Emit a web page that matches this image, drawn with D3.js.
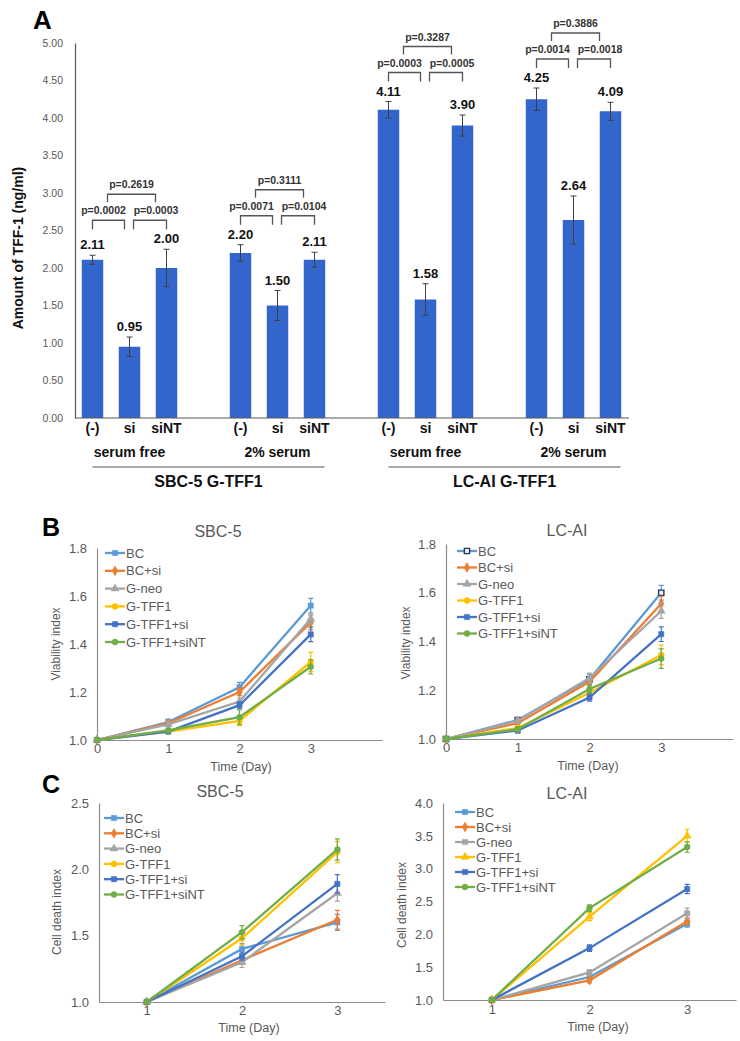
<!DOCTYPE html>
<html>
<head>
<meta charset="utf-8">
<script src="https://cdn.jsdelivr.net/npm/d3@7"></script>
<style>
  html, body { margin: 0; padding: 0; background: #fff; }
  svg { display: block; font-family: "Liberation Sans", Arial, sans-serif; }
</style>
</head>
<body>
<svg id="fig" width="740" height="1041"></svg>
<script>
// ---------------- DATA ----------------
// Panel A
const barCategories = ["(-)", "si", "siNT"];
const barConditions = ["serum free", "2% serum", "serum free", "2% serum"];
const barCellLines = ["SBC-5 G-TFF1", "LC-AI G-TFF1"];
const barValues = [2.11, 0.95, 2.00, 2.20, 1.50, 2.11, 4.11, 1.58, 3.90, 4.25, 2.64, 4.09];
const barErrors = [0.06, 0.13, 0.25, 0.11, 0.20, 0.10, 0.11, 0.21, 0.14, 0.15, 0.32, 0.12];
const pLeft = ["p=0.0002", "p=0.0071", "p=0.0003", "p=0.0014"];
const pRight = ["p=0.0003", "p=0.0104", "p=0.0005", "p=0.0018"];
const pTop = ["p=0.2619", "p=0.3111", "p=0.3287", "p=0.3886"];
const barYTicks = [0, 0.5, 1, 1.5, 2, 2.5, 3, 3.5, 4, 4.5, 5];

// Panels B & C
const seriesNames = ["BC", "BC+si", "G-neo", "G-TFF1", "G-TFF1+si", "G-TFF1+siNT"];
const daysB = [0, 1, 2, 3];
const daysC = [1, 2, 3];

const viabSBC5 = [
  [1.0, 1.075, 1.22, 1.56],
  [1.0, 1.07, 1.20, 1.49],
  [1.0, 1.065, 1.16, 1.505],
  [1.0, 1.035, 1.08, 1.325],
  [1.0, 1.035, 1.145, 1.44],
  [1.0, 1.04, 1.095, 1.305]
];
const viabSBC5Err = [
  [0, 0.012, 0.02, 0.03],
  [0, 0.01, 0.015, 0.03],
  [0, 0.01, 0.015, 0.02],
  [0, 0.008, 0.02, 0.04],
  [0, 0.008, 0.015, 0.03],
  [0, 0.008, 0.03, 0.03]
];
const viabLCAI = [
  [1.0, 1.078, 1.245, 1.60],
  [1.0, 1.065, 1.235, 1.555],
  [1.0, 1.075, 1.25, 1.525],
  [1.0, 1.045, 1.19, 1.345],
  [1.0, 1.035, 1.17, 1.43],
  [1.0, 1.04, 1.205, 1.33]
];
const viabLCAIErr = [
  [0, 0.01, 0.02, 0.03],
  [0, 0.01, 0.015, 0.03],
  [0, 0.01, 0.02, 0.03],
  [0, 0.01, 0.015, 0.04],
  [0, 0.01, 0.015, 0.03],
  [0, 0.01, 0.015, 0.04]
];
const deathSBC5 = [
  [1.0, 1.40, 1.60],
  [1.0, 1.315, 1.62],
  [1.0, 1.30, 1.82],
  [1.0, 1.48, 2.13],
  [1.0, 1.345, 1.89],
  [1.0, 1.526, 2.15]
];
const deathSBC5Err = [
  [0, 0.04, 0.06],
  [0, 0.03, 0.07],
  [0, 0.04, 0.06],
  [0, 0.05, 0.08],
  [0, 0.03, 0.07],
  [0, 0.05, 0.08]
];
const deathLCAI = [
  [1.0, 1.35, 2.16],
  [1.0, 1.30, 2.20],
  [1.0, 1.42, 2.32],
  [1.0, 2.27, 3.50],
  [1.0, 1.79, 2.69],
  [1.0, 2.40, 3.33]
];
const deathLCAIErr = [
  [0, 0.04, 0.05],
  [0, 0.04, 0.05],
  [0, 0.04, 0.08],
  [0, 0.06, 0.10],
  [0, 0.05, 0.07],
  [0, 0.05, 0.08]
];

// ---------------- STYLE ----------------
const seriesColors = ["#5b9bd5", "#ed7d31", "#a5a5a5", "#ffc000", "#4472c4", "#70ad47"];
const FONT = '"Liberation Sans", Arial, sans-serif';

const svg = d3.select("#fig");

// ---------------- PANEL A ----------------
(function panelA() {
  const g = svg.append("g");
  const nGroups = barConditions.length;
  const nSlots = nGroups * 4 - 1;
  const x = d3.scaleBand().domain(d3.range(nSlots)).range([74, 629])
    .paddingInner(0.42).paddingOuter(0.21);
  const y = d3.scaleLinear().domain([0, 5]).range([418, 43]);
  const slotOf = i => Math.floor(i / 3) * 4 + (i % 3);
  const cx = i => x(slotOf(i)) + x.bandwidth() / 2;

  // y axis
  const yAxis = d3.axisLeft(y).tickValues(barYTicks).tickFormat(d3.format(".2f")).tickSize(0).tickPadding(12);
  const ya = g.append("g").attr("transform", "translate(75,0)").call(yAxis);
  ya.select(".domain").attr("stroke", "#595959").attr("stroke-width", 1.2);
  ya.selectAll("text").attr("fill", "#595959").attr("font-size", 10.5).attr("font-family", FONT);

  // bars
  g.selectAll("rect.bar").data(barValues).join("rect")
    .attr("x", (d, i) => x(slotOf(i)))
    .attr("y", d => y(d))
    .attr("width", x.bandwidth())
    .attr("height", d => y(0) - y(d))
    .attr("fill", "#3366cc");

  // x axis line
  g.append("line").attr("x1", 75).attr("x2", 629).attr("y1", y(0)).attr("y2", y(0))
    .attr("stroke", "#595959").attr("stroke-width", 1.2);

  // error bars
  const eb = g.append("g").attr("stroke", "#404040").attr("stroke-width", 1);
  barValues.forEach((v, i) => {
    const e = barErrors[i], c = cx(i);
    eb.append("line").attr("x1", c).attr("x2", c).attr("y1", y(v + e)).attr("y2", y(v - e));
    eb.append("line").attr("x1", c - 3).attr("x2", c + 3).attr("y1", y(v + e)).attr("y2", y(v + e));
    eb.append("line").attr("x1", c - 3).attr("x2", c + 3).attr("y1", y(v - e)).attr("y2", y(v - e));
  });

  // value labels
  g.selectAll("text.val").data(barValues).join("text")
    .attr("x", (d, i) => cx(i))
    .attr("y", (d, i) => y(d + barErrors[i]) - 6)
    .attr("text-anchor", "middle")
    .attr("font-family", FONT).attr("font-weight", "bold").attr("font-size", 13)
    .attr("fill", "#111")
    .text(d => d.toFixed(2));

  // category labels
  barValues.forEach((v, i) => {
    g.append("text").attr("x", cx(i)).attr("y", 433)
      .attr("text-anchor", "middle").attr("font-family", FONT)
      .attr("font-weight", "bold").attr("font-size", 14).attr("fill", "#111")
      .text(barCategories[i % 3]);
  });

  // brackets and p-values
  const br = g.append("g").attr("fill", "none").attr("stroke", "#555").attr("stroke-width", 1.3);
  for (let k = 0; k < nGroups; k++) {
    const i0 = k * 3;
    const c0 = cx(i0), c1 = cx(i0 + 1), c2 = cx(i0 + 2);
    const topY = d3.min([0, 1, 2], j => y(barValues[i0 + j] + barErrors[i0 + j]));
    const lowY = topY - 29;
    const upY = lowY - 26;
    const bracket = (xa, xb, yy, leg) =>
      br.append("path").attr("d", `M${xa},${yy + leg}V${yy}H${xb}V${yy + leg}`);
    bracket(c0, c1 - 5, lowY, 9);
    bracket(c1 + 4, c2, lowY, 9);
    bracket(c0 + 15, c2 - 11, upY, 8);
    const pt = (tx, ty, s) => g.append("text").attr("x", tx).attr("y", ty)
      .attr("text-anchor", "middle").attr("font-family", FONT).attr("font-weight", "bold")
      .attr("font-size", 10.5).attr("fill", "#333").text(s);
    pt((c0 + c1 - 5) / 2 - 5, lowY - 6, pLeft[k]);
    pt((c1 + 4 + c2) / 2 + 6, lowY - 6, pRight[k]);
    pt((c0 + 15 + c2 - 11) / 2, upY - 6, pTop[k]);

    // condition label
    g.append("text").attr("x", c1).attr("y", 457).attr("text-anchor", "middle")
      .attr("font-family", FONT).attr("font-weight", "bold").attr("font-size", 14)
      .attr("fill", "#111").text(barConditions[k]);
  }
  // cell-line labels
  for (let m = 0; m < barCellLines.length; m++) {
    const xa = cx(m * 6), xb = cx(m * 6 + 5) + 10;
    g.append("line").attr("x1", xa).attr("x2", xb).attr("y1", 467).attr("y2", 467)
      .attr("stroke", "#555").attr("stroke-width", 1.2);
    g.append("text").attr("x", (xa + xb) / 2).attr("y", 487).attr("text-anchor", "middle")
      .attr("font-family", FONT).attr("font-weight", "bold").attr("font-size", 16)
      .attr("fill", "#111").text(barCellLines[m]);
  }

  // y title
  g.append("text").attr("transform", "translate(23,248) rotate(-90)")
    .attr("text-anchor", "middle").attr("font-family", FONT).attr("font-weight", "bold")
    .attr("font-size", 14).attr("fill", "#111").text("Amount of TFF-1 (ng/ml)");

  // panel letter
  svg.append("text").attr("x", 33).attr("y", 29).attr("font-family", FONT)
    .attr("font-weight", "bold").attr("font-size", 26).attr("fill", "#000").text("A");
})();

// ---------------- LINE PANELS ----------------
function linePanel(o) {
  const g = svg.append("g");
  const x = d3.scaleLinear().domain(o.xDomain).range(o.xRange);
  const y = d3.scaleLinear().domain(o.yDomain).range(o.yRange);

  // axes
  const ya = g.append("g").attr("transform", `translate(${o.xRange[0]},0)`)
    .call(d3.axisLeft(y).tickValues(o.yTicks).tickFormat(d3.format(".1f")).tickSize(0).tickPadding(10));
  ya.select(".domain").attr("stroke", "#8c8c8c").attr("stroke-width", 1.2);
  ya.selectAll("text").attr("fill", "#595959").attr("font-size", 13).attr("font-family", FONT);

  const xa = g.append("g").attr("transform", `translate(0,${o.yRange[0]})`)
    .call(d3.axisBottom(x).tickValues(o.days).tickFormat(d3.format("d")).tickSize(0).tickPadding(o.xPad));
  xa.select(".domain").attr("stroke", "#8c8c8c").attr("stroke-width", 1.2);
  xa.selectAll("text").attr("fill", "#595959").attr("font-size", 13).attr("font-family", FONT);

  // titles
  g.append("text").attr("x", o.title[1]).attr("y", o.title[2]).attr("text-anchor", "middle")
    .attr("font-family", FONT).attr("font-size", 16).attr("fill", "#595959").text(o.title[0]);
  g.append("text").attr("x", o.xTitle[0]).attr("y", o.xTitle[1]).attr("text-anchor", "middle")
    .attr("font-family", FONT).attr("font-size", 12.5).attr("fill", "#595959").text("Time (Day)");
  g.append("text").attr("transform", `translate(${o.yTitle[1]},${o.yTitle[2]}) rotate(-90)`)
    .attr("text-anchor", "middle").attr("font-family", FONT).attr("font-size", 12)
    .attr("fill", "#595959").text(o.yTitle[0]);

  const symType = { square: d3.symbolSquare, diamond: d3.symbolDiamond, triangle: d3.symbolTriangle, circle: d3.symbolCircle };
  const symSize = { square: 28, diamond: 28, triangle: 28, circle: 28 };
  const drawMarker = (sel, s, cxp, cyp) => {
    const t = o.markers[s];
    const hollow = o.hollow && o.hollow[s];
    sel.append("path")
      .attr("d", d3.symbol().type(symType[t]).size(symSize[t])())
      .attr("transform", `translate(${cxp},${cyp})`)
      .attr("fill", hollow ? "#f2f2f2" : seriesColors[s])
      .attr("stroke", hollow ? "#1f3864" : seriesColors[s])
      .attr("stroke-width", hollow ? 1.4 : 0.5);
  };

  const line = d3.line().x((d, i) => x(o.days[i])).y(d => y(d));
  o.values.forEach((vals, s) => {
    const sg = g.append("g");
    sg.append("path").attr("d", line(vals)).attr("fill", "none")
      .attr("stroke", seriesColors[s]).attr("stroke-width", 2.3);
    vals.forEach((v, i) => {
      const e = o.errors[s][i];
      if (e > 0) {
        const px = x(o.days[i]);
        sg.append("path")
          .attr("d", `M${px},${y(v + e)}V${y(v - e)}M${px - 2.5},${y(v + e)}H${px + 2.5}M${px - 2.5},${y(v - e)}H${px + 2.5}`)
          .attr("stroke", seriesColors[s]).attr("stroke-width", 1.2).attr("fill", "none");
      }
      drawMarker(sg, s, x(o.days[i]), y(v));
    });
  });

  // legend
  const lg = g.append("g");
  seriesNames.forEach((name, s) => {
    const ly = o.legend[1] + s * o.legend[2];
    const lx = o.legend[0];
    lg.append("line").attr("x1", lx).attr("x2", lx + 20).attr("y1", ly).attr("y2", ly)
      .attr("stroke", seriesColors[s]).attr("stroke-width", 2.3);
    drawMarker(lg, s, lx + 10, ly);
    lg.append("text").attr("x", lx + 21).attr("y", ly).attr("dy", "0.36em")
      .attr("font-family", FONT).attr("font-size", 13).attr("fill", "#595959").text(name);
  });
}

linePanel({
  xDomain: [0, 4], xRange: [97, 382], yDomain: [1, 1.8], yRange: [740, 548],
  yTicks: [1.0, 1.2, 1.4, 1.6, 1.8], days: daysB, xPad: 4,
  values: viabSBC5, errors: viabSBC5Err,
  title: ["SBC-5", 218, 537], xTitle: [241, 771], yTitle: ["Viability index", 60, 644],
  legend: [105, 553, 17.8],
  markers: ["square", "diamond", "triangle", "circle", "square", "circle"]
});
linePanel({
  xDomain: [0, 4], xRange: [446, 733], yDomain: [1, 1.8], yRange: [739, 544],
  yTicks: [1.0, 1.2, 1.4, 1.6, 1.8], days: daysB, xPad: 4,
  values: viabLCAI, errors: viabLCAIErr,
  title: ["LC-AI", 567, 536], xTitle: [588, 770], yTitle: ["Viability index", 410, 643],
  legend: [457, 551, 16.5],
  markers: ["square", "diamond", "triangle", "circle", "square", "circle"],
  hollow: [true, false, false, false, false, false]
});
linePanel({
  xDomain: [0.5, 3.5], xRange: [99, 385], yDomain: [1, 2.5], yRange: [1002, 803],
  yTicks: [1.0, 1.5, 2.0, 2.5], days: daysC, xPad: 4,
  values: deathSBC5, errors: deathSBC5Err,
  title: ["SBC-5", 220, 797], xTitle: [249, 1032], yTitle: ["Cell death index", 61, 912],
  legend: [104, 818, 15.3],
  markers: ["square", "diamond", "triangle", "circle", "square", "circle"]
});
linePanel({
  xDomain: [0.5, 3.5], xRange: [443, 736], yDomain: [1, 4], yRange: [1000, 803],
  yTicks: [1.0, 1.5, 2.0, 2.5, 3.0, 3.5, 4.0], days: daysC, xPad: 5,
  values: deathLCAI, errors: deathLCAIErr,
  title: ["LC-AI", 567, 799], xTitle: [598, 1031], yTitle: ["Cell death index", 406, 905],
  legend: [455, 812, 15],
  markers: ["square", "diamond", "square", "triangle", "square", "circle"]
});

// panel letters
svg.append("text").attr("x", 42).attr("y", 536).attr("font-family", FONT)
  .attr("font-weight", "bold").attr("font-size", 25).attr("fill", "#000").text("B");
svg.append("text").attr("x", 42).attr("y", 793).attr("font-family", FONT)
  .attr("font-weight", "bold").attr("font-size", 25).attr("fill", "#000").text("C");
</script>
</body>
</html>
